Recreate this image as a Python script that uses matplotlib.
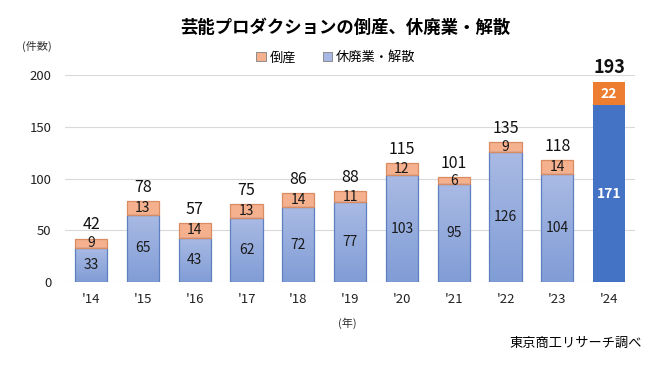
import numpy as np
import matplotlib.pyplot as plt
from matplotlib.colors import LinearSegmentedColormap

plt.rcParams['font.family'] = ['Noto Sans CJK JP', 'DejaVu Sans']

years = ["'14", "'15", "'16", "'17", "'18", "'19", "'20", "'21", "'22", "'23", "'24"]
closures = [33, 65, 43, 62, 72, 77, 103, 95, 126, 104, 171]   # 休廃業・解散
bankruptcies = [9, 13, 14, 13, 14, 11, 12, 6, 9, 14, 22]      # 倒産
totals = [a + b for a, b in zip(closures, bankruptcies)]

fig = plt.figure(figsize=(6.65, 3.66), dpi=100)
ax = fig.add_axes([0.098, 0.2295, 0.857, 0.5655])

x = np.arange(len(years))
width = 0.62
n = len(years)

blue_cols = ['#A6B8E3'] * (n - 1) + ['#4472C4']
orange_cols = ['#F5B08E'] * (n - 1) + ['#ED7D31']
b1 = ax.bar(x, closures, width, color=blue_cols, linewidth=0, zorder=2)
b2 = ax.bar(x, bankruptcies, width, bottom=closures, color=orange_cols, linewidth=0, zorder=2)

# vertical gradient on the light blue bars
grad = LinearSegmentedColormap.from_list('g', ['#819DD6', '#A9BAE4'])
for bar in list(b1)[:-1]:
    x0, y0 = bar.get_x(), bar.get_y()
    w, h = bar.get_width(), bar.get_height()
    im = ax.imshow(np.linspace(0, 1, 100).reshape(-1, 1), cmap=grad, origin='lower',
                   extent=[x0, x0 + w, y0, y0 + h], aspect='auto', zorder=2.1)
    im.set_clip_path(bar)

# outlines on top of the gradient
ax.bar(x[:-1], closures[:-1], width, fill=False, edgecolor='#5F80C0', linewidth=0.9, zorder=3)
ax.bar(x[:-1], bankruptcies[:-1], width, bottom=closures[:-1], fill=False,
       edgecolor='#D98C62', linewidth=0.9, zorder=3)

for i in range(n):
    last = i == n - 1
    tc = 'white' if last else '#1a1a1a'
    fw = 'bold' if last else 'normal'
    ax.text(x[i], closures[i] / 2, str(closures[i]), ha='center', va='center',
            fontsize=10, color=tc, fontweight=fw, zorder=4)
    ax.text(x[i], closures[i] + bankruptcies[i] / 2, str(bankruptcies[i]), ha='center',
            va='center', fontsize=10, color=tc, fontweight=fw, zorder=4)
    ax.text(x[i], totals[i] + 5, str(totals[i]), ha='center', va='bottom',
            fontsize=13 if last else 11.5, fontweight=fw, color='#111111', clip_on=False)

ax.set_xlim(-0.5, n - 0.5)
ax.set_ylim(0, 200)
ax.set_yticks([0, 50, 100, 150, 200])
ax.set_xticks(x)
ax.set_xticklabels(years)
ax.tick_params(length=0, labelsize=9.5, colors='#222222', pad=8)
ax.tick_params(axis='y', pad=10)
ax.grid(axis='y', color='#D9D9D9', linewidth=0.8, zorder=0)
for s in ax.spines.values():
    s.set_visible(False)

fig.text(0.52, 0.925, '芸能プロダクションの倒産、休廃業・解散', ha='center', va='center',
         fontsize=12.5, fontweight='bold')
fig.text(0.033, 0.872, '(件数)', ha='left', va='center', fontsize=8, color='#333333')
fig.text(0.523, 0.118, '(年)', ha='center', va='center', fontsize=8, color='#333333')
fig.text(0.965, 0.062, '東京商工リサーチ調べ', ha='right', va='center', fontsize=9.5)

leg = fig.legend([b2[0], b1[0]], ['倒産', '休廃業・解散'], loc='center',
                 bbox_to_anchor=(0.505, 0.842), ncol=2, frameon=False, fontsize=9.5,
                 handlelength=0.7, handleheight=0.7, handletextpad=0.3, columnspacing=2.0)
for h in leg.legend_handles:
    h.set_edgecolor('#7F7F7F')
    h.set_linewidth(0.6)

fig.savefig('out.png', dpi=100)
